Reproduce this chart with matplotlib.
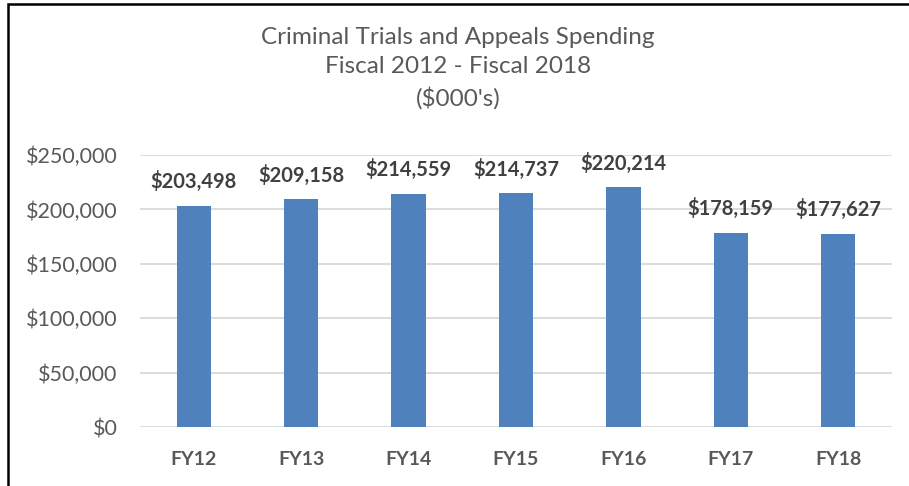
import matplotlib.pyplot as plt
from matplotlib.patches import Rectangle
from matplotlib.ticker import FuncFormatter

years = ['FY12', 'FY13', 'FY14', 'FY15', 'FY16', 'FY17', 'FY18']
spending = [203498, 209158, 214559, 214737, 220214, 178159, 177627]

plt.rcParams['font.family'] = ['Lato', 'DejaVu Sans']
grey = '#595959'

fig = plt.figure(figsize=(9.09, 4.86), dpi=100)
ax = fig.add_axes([140 / 909, 1 - 427 / 486, (892 - 140) / 909, (427 - 155) / 486])

ax.bar(years, spending, width=0.32, color='#4F81BD', zorder=2)
for i, v in enumerate(spending):
    ax.annotate('${:,}'.format(v), (i, v), xytext=(0, 17.5), textcoords='offset points',
                ha='center', va='center', fontsize=14.5, fontweight='bold', color='#404040')

ax.set_ylim(0, 250000)
ax.set_xlim(-0.5, len(years) - 0.5)
ax.set_yticks(range(0, 250001, 50000))
ax.yaxis.set_major_formatter(FuncFormatter(lambda x, p: '${:,.0f}'.format(x)))
ax.grid(axis='y', color='#D9D9D9', linewidth=1.3, zorder=0)
for s in ax.spines.values():
    s.set_visible(False)
ax.tick_params(length=0, labelcolor=grey)
ax.tick_params(axis='y', labelsize=15.5, pad=16)
ax.tick_params(axis='x', labelsize=14, pad=17)
for lab in ax.get_xticklabels():
    lab.set_fontweight('bold')

fig.text(458 / 909, 1 - 68 / 486,
         "Criminal Trials and Appeals Spending\nFiscal 2012 - Fiscal 2018\n($000's)",
         ha='center', va='center', fontsize=17.5, color=grey, linespacing=1.5)

# border of the chart box (right and bottom run off the picture)
fig.patches.append(Rectangle((8 / 909, -0.05), 1.1, 1 - 4.5 / 486 + 0.05,
                             transform=fig.transFigure, fill=False,
                             edgecolor='black', linewidth=1.8))

fig.savefig('out.png', dpi=100)
